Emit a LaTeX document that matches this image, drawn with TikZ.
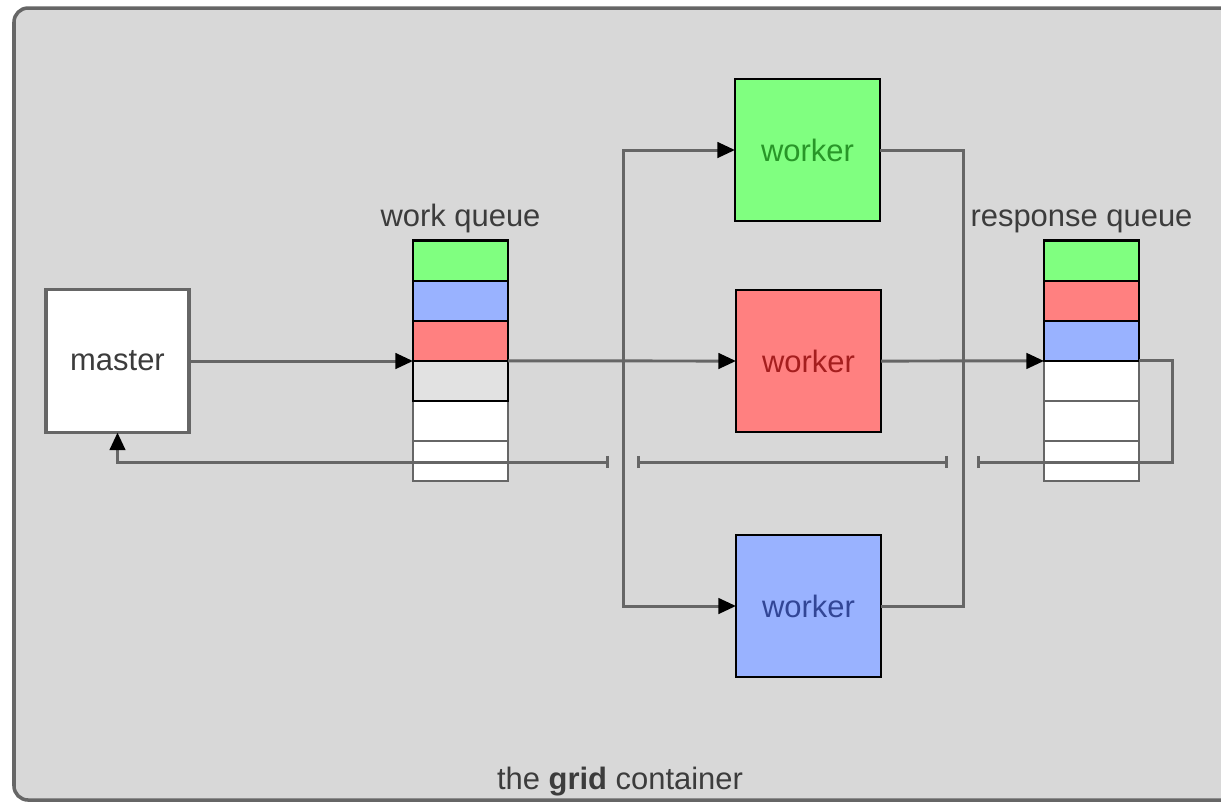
\documentclass[tikz,border=0pt]{standalone}
\usepackage{fontspec}
\setmainfont{Liberation Sans}
\usepackage{xcolor}
\usepackage{tikz}
\usetikzlibrary{arrows.meta,positioning}

\definecolor{bggray}{RGB}{216,216,216}
\definecolor{edgegray}{RGB}{102,102,102}
\definecolor{cellgray}{RGB}{226,226,226}
\definecolor{fgreen}{RGB}{128,255,128}
\definecolor{fred}{RGB}{255,128,128}
\definecolor{fblue}{RGB}{153,178,255}
\definecolor{tgreen}{RGB}{40,150,40}
\definecolor{tred}{RGB}{165,30,30}
\definecolor{tblue}{RGB}{50,70,150}
\definecolor{txt}{RGB}{60,60,60}

\begin{document}
\begin{tikzpicture}[
  x=0.01cm, y=-0.01cm,
  font=\fontsize{8.8pt}{11pt}\selectfont,
  container/.style={draw=edgegray, fill=bggray, line width=1pt,
                    rounded corners=4pt},
  master/.style={rectangle, draw=edgegray, fill=white, line width=0.9pt,
                 minimum width=1.43cm, minimum height=1.43cm,
                 text=txt, outer sep=0pt},
  worker/.style={rectangle, draw=black, line width=0.8pt,
                 minimum width=1.45cm, minimum height=1.42cm, outer sep=0pt},
  cell/.style={rectangle, draw=black, line width=0.8pt, inner sep=0pt,
               minimum width=0.95cm, minimum height=0.4cm, outer sep=0pt},
  emptycell/.style={cell, draw=edgegray, fill=white},
  qlabel/.style={text=txt, inner sep=1pt},
  line/.style={draw=edgegray, line width=0.85pt},
  arr/.style={line, -{Triangle[length=5pt, width=4.4pt, black]}},
  hop/.style={line, {Bar[width=3.5pt]}-{Bar[width=3.5pt]}}
]

\useasboundingbox (0,0) rectangle (1221,805);

% the container
\draw[container] (14,8) rectangle (1250,800);
\node[text=txt] (gridlbl) at (620,782) {the \textbf{grid} container};

% master
\node[master] (master) at (117.5,361) {master};

% work queue, bottom up
\node[emptycell] (wq6) at (460.5,461) {};
\node[emptycell, above=0pt of wq6] (wq5) {};
\node[cell, fill=cellgray, above=0pt of wq5] (wq4) {};
\node[cell, fill=fred,     above=0pt of wq4] (wq3) {};
\node[cell, fill=fblue,    above=0pt of wq3] (wq2) {};
\node[cell, fill=fgreen,   above=0pt of wq2] (wq1) {};
\node[qlabel, above=1pt of wq1] (wqlbl) {work queue};

% workers
\node[worker, fill=fgreen, text=tgreen] (wgreen) at (807.5,150) {worker};
\node[worker, fill=fred,   text=tred]   (wred)   at (808.5,361) {worker};
\node[worker, fill=fblue,  text=tblue]  (wblue)  at (808.5,606) {worker};

% response queue, bottom up
\node[emptycell] (rq6) at (1091.5,461) {};
\node[emptycell, above=0pt of rq6] (rq5) {};
\node[emptycell, above=0pt of rq5] (rq4) {};
\node[cell, fill=fblue,  above=0pt of rq4] (rq3) {};
\node[cell, fill=fred,   above=0pt of rq3] (rq2) {};
\node[cell, fill=fgreen, above=0pt of rq2] (rq1) {};
\node[qlabel, above=1pt of rq1, xshift=-0.1cm] (rqlbl) {response queue};

% helper points
\coordinate (split) at (623,0);
\coordinate (join)  at (963,0);
\coordinate (loop)  at (1172,462);
\coordinate (hopa)  at (977,462);
\coordinate (hopb)  at (948,462);
\coordinate (hopc)  at (637,462);
\coordinate (hopd)  at (609,462);

% work out
\draw[arr] (master.east) -- (master.east -| wq3.south west);
\draw[arr] (wq3.south east) -- (wred.west);
\draw[arr] (split |- wred.west) |- (wgreen.west);
\draw[arr] (split |- wred.west) |- (wblue.west);

% results in
\draw[line] (wgreen.east) -| (join |- wred.east);
\draw[line] (wblue.east) -| (join |- wred.east);
\draw[arr] (wred.east) -- (rq3.south west);

% back to master
\draw[line, -{Bar[width=3.5pt]}] (rq3.south east) -| (loop) -- (hopa);
\draw[hop] (hopb) -- (hopc);
\draw[arr, {Bar[width=3.5pt]}-{Triangle[length=5pt, width=4.4pt, black]}]
  (hopd) -| (master.south);

\end{tikzpicture}
\end{document}
